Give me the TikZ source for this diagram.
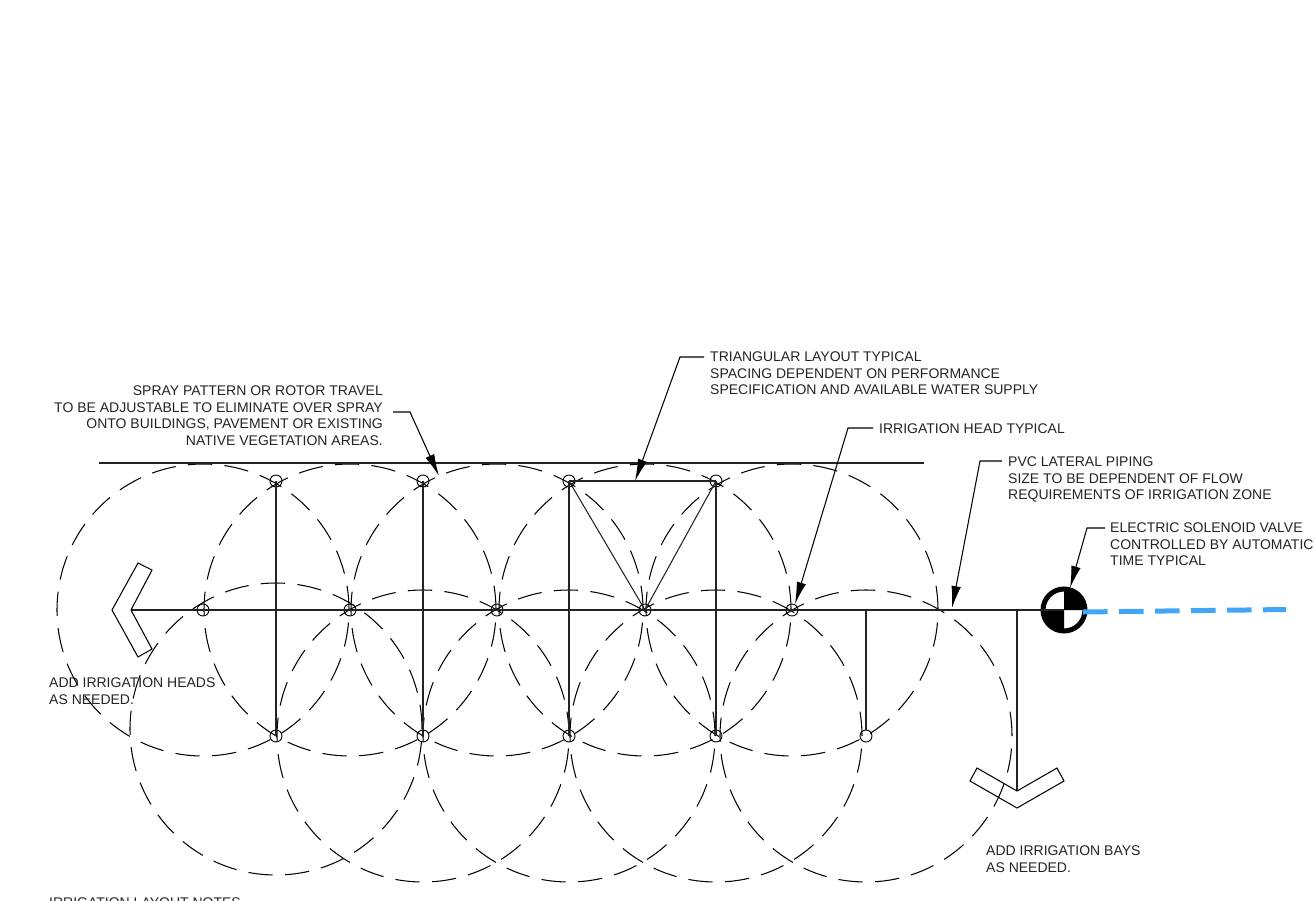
\documentclass[tikz,border=0pt]{standalone}
\usepackage{fontspec}
\setmainfont{Liberation Sans}
\usetikzlibrary{arrows.meta}
\definecolor{inkc}{RGB}{35,35,35}
\definecolor{pipeblue}{RGB}{66,165,245}
\tikzset{
  x=1pt,y=-1pt,
  pipe/.style={line width=1.05pt,draw=inkc},
  spray/.style={line width=1.05pt,draw=black,dash pattern=on 24.4pt off 12.29pt},
  head/.style={circle,draw=black,line width=0.95pt,inner sep=0pt,minimum size=12pt},
  leader/.style={line width=1.05pt,draw=black,-{Latex[length=22pt,width=9.5pt]}},
  note/.style={inner sep=0pt,font=\fontsize{14}{16.6}\selectfont,text=inkc,align=left,anchor=north west},
  noter/.style={note,align=right,anchor=north east},
  outline/.style={line width=1.05pt,draw=black,line join=miter},
}
\begin{document}
\begin{tikzpicture}
\useasboundingbox (0,0) rectangle (1315,900);
% coordinates on lines
\coordinate (tl) at (99,463); \coordinate (tr) at (924,463);
\coordinate (ms) at (131,610); \coordinate (b1) at (1017,610);
\coordinate (b2) at (866,610);
\coordinate (b1e) at (1017,791);
% spray circles: each starts at its east point and runs counter-clockwise on the page
\foreach \c in {203,350,497,645,792} \draw[spray] (\c+146,610) arc[start angle=0,end angle=-360,radius=146];
\draw[spray] (276+146,729) arc[start angle=0,end angle=-360,radius=146];
\foreach \c in {423,569,716,866} \draw[spray] (\c+146,736) arc[start angle=0,end angle=-360,radius=146];
% heads
\node[head] (u1) at (276,481) {}; \node[head] (u2) at (423,481) {};
\node[head] (u3) at (569,481) {}; \node[head] (u4) at (716,481) {};
\node[head] (m1) at (203,610) {}; \node[head] (m2) at (350,610) {};
\node[head] (m3) at (497,610) {}; \node[head] (m4) at (645,610) {};
\node[head] (m5) at (792,610) {};
\node[head] (d1) at (276,736) {}; \node[head] (d2) at (423,736) {};
\node[head] (d3) at (569,736) {}; \node[head] (d4) at (716,736) {};
\node[head] (d5) at (866,736) {};
% valve
\node[circle,draw=black,line width=5pt,inner sep=0pt,minimum size=42pt] (valve) at (1064,610) {};
\fill[black] (valve.center) -- (1064,590) arc[start angle=-90,end angle=0,radius=20] -- cycle;
\fill[black] (valve.center) -- (1064,630) arc[start angle=90,end angle=180,radius=20] -- cycle;
% pipes
\draw[pipe] (tl) -- (tr);
\draw[pipe] (ms) -- (valve.center);
\draw[pipe] (u1.center) -- (d1.center);
\draw[pipe] (u2.center) -- (d2.center);
\draw[pipe] (u3.center) -- (d3.center);
\draw[pipe] (u4.center) -- (d4.center);
\draw[pipe] (b2) -- (d5.north);
\draw[pipe] (b1) -- (b1e);
\draw[pipe] (u3.center) -- (u4.center);
\draw[pipe] (u3.center) -- (m4.center);
\draw[pipe] (u4.center) -- (m4.center);
% chevrons
\draw[outline] (ms) -- (152,570) -- (138,563) -- (112,610) -- (138,657) -- (152,649) -- cycle;
\draw[outline] (b1e) -- (1057,768) -- (1064,781) -- (1017,808) -- (970,781) -- (977,768) -- cycle;
% blue lateral
\coordinate (bluestart) at (1083,612);
\coordinate (blueend) at (1286,609.5);
\draw[pipeblue,line width=5pt,dash pattern=on 24.6pt off 11.4pt] (bluestart) -- (blueend);
% texts
\node[noter] (t1) at (383,385.5) {SPRAY PATTERN OR ROTOR TRAVEL\\TO BE ADJUSTABLE TO ELIMINATE OVER SPRAY\\ONTO BUILDINGS, PAVEMENT OR EXISTING\\NATIVE VEGETATION AREAS.};
\node[note] (t2) at (710,351.5) {TRIANGULAR LAYOUT TYPICAL\\SPACING DEPENDENT ON PERFORMANCE\\SPECIFICATION AND AVAILABLE WATER SUPPLY};
\node[note] (t3) at (879,423.5) {IRRIGATION HEAD TYPICAL};
\node[note] (t4) at (1008,456.5) {PVC LATERAL PIPING\\SIZE TO BE DEPENDENT OF FLOW\\REQUIREMENTS OF IRRIGATION ZONE};
\node[note] (t5) at (1110,522.5) {ELECTRIC SOLENOID VALVE\\CONTROLLED BY AUTOMATIC\\TIME TYPICAL};
\node[note] (t6) at (49,677.5) {ADD IRRIGATION HEADS\\AS NEEDED.};
\node[note] (t7) at (986,845.5) {ADD IRRIGATION BAYS\\AS NEEDED.};
\node[note] (t8) at (49,898) {IRRIGATION LAYOUT NOTES};
% leaders
\coordinate (a1) at (393,412); \coordinate (a1k) at (410,412); \coordinate (a1t) at (439,476);
\coordinate (a2) at (704,357); \coordinate (a2k) at (680,357); \coordinate (a2t) at (635,481);
\coordinate (a3) at (873,428); \coordinate (a3k) at (848,428); \coordinate (a3t) at (795,604);
\coordinate (a4) at (1002,461); \coordinate (a4k) at (980,461); \coordinate (a4t) at (952,608);
\coordinate (a5) at (1105,528); \coordinate (a5k) at (1087,528); \coordinate (a5t) at (1070,588);
\draw[leader] (a1) -- (a1k) -- (a1t);
\draw[leader] (a2) -- (a2k) -- (a2t);
\draw[leader] (a3) -- (a3k) -- (a3t);
\draw[leader] (a4) -- (a4k) -- (a4t);
\draw[leader] (a5) -- (a5k) -- (a5t);
\end{tikzpicture}
\end{document}
